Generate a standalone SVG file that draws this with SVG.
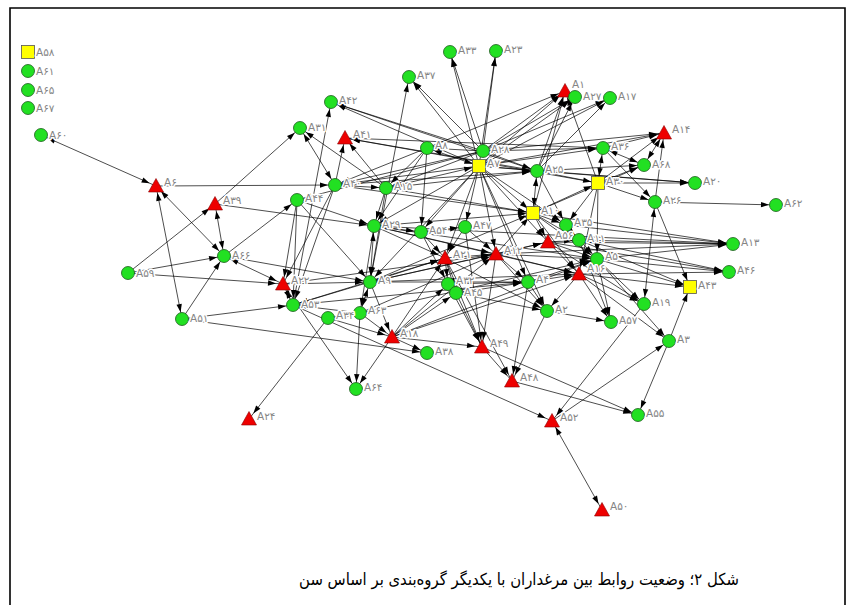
<svg xmlns="http://www.w3.org/2000/svg" xmlns:xlink="http://www.w3.org/1999/xlink" width="854" height="605" viewBox="0 0 854 605">
<style>
.frame{fill:none;stroke:#000;stroke-width:1.6}
#connectors line{stroke:#000;stroke-width:0.7;fill:none;marker-end:url(#ah)}
#connectors line.b{marker-start:url(#ah)}
.g{fill:#22e022;stroke:#1c5a1c;stroke-width:0.8}
.r{fill:#ee0000;stroke:#8a0000;stroke-width:0.6}
.y{fill:#ffff00;stroke:#555;stroke-width:0.8}
.l{font-family:"DejaVu Sans",sans-serif;font-size:10.5px;fill:#858585;stroke:#fff;stroke-width:3;paint-order:stroke;stroke-linejoin:round}
.cap{font-family:"DejaVu Sans Condensed","DejaVu Sans",sans-serif;font-size:16.5px;fill:#000}
</style>
<defs>
<marker id="ah" markerWidth="16" markerHeight="6" refX="15" refY="3" orient="auto-start-reverse" markerUnits="userSpaceOnUse" overflow="visible"><path d="M0,0.3 L8,3 L0,5.7 z" fill="#000"/></marker>
<circle id="cir" r="6.5"/>
<polygon id="tri" points="0,-7.5 7.5,6 -7.5,6"/>
<rect id="sq" x="-6.5" y="-6.5" width="13" height="13"/>
</defs>
<rect width="854" height="605" fill="#fff"/>
<path class="frame" d="M10,605 V8 H845 V605"/>
<g id="connectors">
<line class="b" x1="41" y1="135" x2="156" y2="186"/>
<line x1="156" y1="186" x2="335" y2="185"/>
<line class="b" x1="156" y1="186" x2="182" y2="319"/>
<line class="b" x1="156" y1="186" x2="224" y2="256"/>
<line x1="128" y1="273" x2="215" y2="204"/>
<line x1="128" y1="273" x2="224" y2="256"/>
<line x1="128" y1="273" x2="283" y2="284"/>
<line x1="182" y1="319" x2="224" y2="256"/>
<line x1="182" y1="319" x2="293" y2="305"/>
<line x1="182" y1="319" x2="427" y2="353"/>
<line class="b" x1="215" y1="204" x2="224" y2="256"/>
<line x1="215" y1="204" x2="374" y2="226"/>
<line x1="215" y1="204" x2="300" y2="128"/>
<line x1="224" y1="256" x2="297" y2="200"/>
<line class="b" x1="224" y1="256" x2="283" y2="284"/>
<line x1="224" y1="256" x2="370" y2="282"/>
<line class="b" x1="300" y1="128" x2="335" y2="185"/>
<line x1="386" y1="188" x2="300" y2="128"/>
<line x1="335" y1="185" x2="345" y2="138"/>
<line x1="386" y1="188" x2="345" y2="138"/>
<line x1="537" y1="171" x2="345" y2="138"/>
<line x1="598" y1="183" x2="345" y2="138"/>
<line x1="603" y1="148" x2="345" y2="138"/>
<line x1="479" y1="166" x2="331" y2="102"/>
<line x1="483" y1="151" x2="331" y2="102"/>
<line x1="537" y1="171" x2="331" y2="102"/>
<line x1="293" y1="305" x2="331" y2="102"/>
<line x1="370" y1="282" x2="409" y2="77"/>
<line x1="479" y1="166" x2="409" y2="77"/>
<line x1="483" y1="151" x2="409" y2="77"/>
<line x1="479" y1="166" x2="450" y2="52"/>
<line x1="483" y1="151" x2="450" y2="52"/>
<line x1="483" y1="151" x2="496" y2="51"/>
<line x1="479" y1="166" x2="496" y2="51"/>
<line x1="479" y1="166" x2="565" y2="91"/>
<line x1="483" y1="151" x2="565" y2="91"/>
<line x1="537" y1="171" x2="565" y2="91"/>
<line x1="427" y1="148" x2="565" y2="91"/>
<line x1="533" y1="213" x2="565" y2="91"/>
<line x1="598" y1="183" x2="565" y2="91"/>
<line x1="483" y1="151" x2="575" y2="97"/>
<line x1="537" y1="171" x2="575" y2="97"/>
<line x1="479" y1="166" x2="575" y2="97"/>
<line x1="479" y1="166" x2="610" y2="98"/>
<line x1="483" y1="151" x2="610" y2="98"/>
<line x1="537" y1="171" x2="610" y2="98"/>
<line x1="479" y1="166" x2="603" y2="148"/>
<line x1="483" y1="151" x2="603" y2="148"/>
<line class="b" x1="598" y1="183" x2="603" y2="148"/>
<line x1="603" y1="148" x2="664" y2="133"/>
<line x1="598" y1="183" x2="664" y2="133"/>
<line x1="479" y1="166" x2="664" y2="133"/>
<line x1="483" y1="151" x2="664" y2="133"/>
<line class="b" x1="644" y1="165" x2="664" y2="133"/>
<line x1="655" y1="202" x2="664" y2="133"/>
<line class="b" x1="603" y1="148" x2="644" y2="165"/>
<line x1="598" y1="183" x2="644" y2="165"/>
<line x1="533" y1="213" x2="644" y2="165"/>
<line x1="537" y1="171" x2="644" y2="165"/>
<line x1="479" y1="166" x2="695" y2="183"/>
<line x1="598" y1="183" x2="695" y2="183"/>
<line x1="537" y1="171" x2="695" y2="183"/>
<line x1="655" y1="202" x2="776" y2="205"/>
<line x1="548" y1="242" x2="733" y2="244"/>
<line x1="533" y1="213" x2="733" y2="244"/>
<line x1="566" y1="225" x2="733" y2="244"/>
<line x1="579" y1="240" x2="733" y2="244"/>
<line x1="597" y1="259" x2="733" y2="244"/>
<line x1="496" y1="254" x2="733" y2="244"/>
<line x1="374" y1="226" x2="733" y2="244"/>
<line x1="579" y1="274" x2="729" y2="272"/>
<line x1="597" y1="259" x2="729" y2="272"/>
<line x1="579" y1="240" x2="729" y2="272"/>
<line x1="548" y1="242" x2="729" y2="272"/>
<line x1="655" y1="202" x2="690" y2="287"/>
<line x1="669" y1="341" x2="690" y2="287"/>
<line x1="579" y1="274" x2="690" y2="287"/>
<line x1="597" y1="259" x2="690" y2="287"/>
<line x1="579" y1="240" x2="690" y2="287"/>
<line class="b" x1="655" y1="202" x2="644" y2="304"/>
<line x1="579" y1="274" x2="644" y2="304"/>
<line x1="597" y1="259" x2="644" y2="304"/>
<line x1="548" y1="242" x2="644" y2="304"/>
<line x1="579" y1="274" x2="611" y2="322"/>
<line x1="597" y1="259" x2="611" y2="322"/>
<line x1="579" y1="240" x2="611" y2="322"/>
<line x1="579" y1="274" x2="669" y2="341"/>
<line x1="597" y1="259" x2="669" y2="341"/>
<line x1="552" y1="421" x2="669" y2="341"/>
<line x1="669" y1="341" x2="638" y2="415"/>
<line x1="482" y1="347" x2="638" y2="415"/>
<line x1="512" y1="381" x2="638" y2="415"/>
<line x1="293" y1="305" x2="552" y2="421"/>
<line x1="644" y1="304" x2="552" y2="421"/>
<line class="b" x1="552" y1="421" x2="602" y2="510"/>
<line x1="482" y1="347" x2="512" y2="381"/>
<line x1="528" y1="282" x2="512" y2="381"/>
<line x1="547" y1="311" x2="512" y2="381"/>
<line x1="445" y1="258" x2="512" y2="381"/>
<line x1="392" y1="337" x2="482" y2="347"/>
<line x1="445" y1="258" x2="482" y2="347"/>
<line x1="496" y1="254" x2="482" y2="347"/>
<line x1="448" y1="284" x2="482" y2="347"/>
<line x1="456" y1="293" x2="482" y2="347"/>
<line x1="465" y1="227" x2="482" y2="347"/>
<line x1="392" y1="337" x2="427" y2="353"/>
<line x1="392" y1="337" x2="356" y2="389"/>
<line x1="283" y1="284" x2="356" y2="389"/>
<line x1="360" y1="313" x2="356" y2="389"/>
<line x1="328" y1="318" x2="249" y2="419"/>
<line class="b" x1="479" y1="166" x2="427" y2="148"/>
<line class="b" x1="479" y1="166" x2="386" y2="188"/>
<line x1="479" y1="166" x2="335" y2="185"/>
<line x1="479" y1="166" x2="374" y2="226"/>
<line x1="479" y1="166" x2="421" y2="232"/>
<line x1="479" y1="166" x2="465" y2="227"/>
<line x1="479" y1="166" x2="533" y2="213"/>
<line x1="479" y1="166" x2="537" y2="171"/>
<line x1="479" y1="166" x2="496" y2="254"/>
<line x1="479" y1="166" x2="445" y2="258"/>
<line x1="479" y1="166" x2="370" y2="282"/>
<line x1="479" y1="166" x2="548" y2="242"/>
<line x1="479" y1="166" x2="566" y2="225"/>
<line x1="479" y1="166" x2="528" y2="282"/>
<line x1="479" y1="166" x2="547" y2="311"/>
<line x1="483" y1="151" x2="427" y2="148"/>
<line x1="483" y1="151" x2="386" y2="188"/>
<line x1="483" y1="151" x2="335" y2="185"/>
<line x1="483" y1="151" x2="537" y2="171"/>
<line x1="483" y1="151" x2="297" y2="200"/>
<line x1="427" y1="148" x2="335" y2="185"/>
<line x1="427" y1="148" x2="386" y2="188"/>
<line x1="427" y1="148" x2="374" y2="226"/>
<line x1="427" y1="148" x2="421" y2="232"/>
<line x1="386" y1="188" x2="374" y2="226"/>
<line x1="386" y1="188" x2="370" y2="282"/>
<line x1="335" y1="185" x2="386" y2="188"/>
<line x1="335" y1="185" x2="283" y2="284"/>
<line x1="335" y1="185" x2="293" y2="305"/>
<line x1="297" y1="200" x2="283" y2="284"/>
<line x1="297" y1="200" x2="293" y2="305"/>
<line x1="297" y1="200" x2="374" y2="226"/>
<line x1="297" y1="200" x2="370" y2="282"/>
<line class="b" x1="374" y1="226" x2="370" y2="282"/>
<line x1="374" y1="226" x2="360" y2="313"/>
<line x1="374" y1="226" x2="421" y2="232"/>
<line x1="374" y1="226" x2="496" y2="254"/>
<line x1="374" y1="226" x2="445" y2="258"/>
<line x1="283" y1="284" x2="370" y2="282"/>
<line class="b" x1="370" y1="282" x2="360" y2="313"/>
<line x1="370" y1="282" x2="392" y2="337"/>
<line x1="370" y1="282" x2="293" y2="305"/>
<line x1="360" y1="313" x2="392" y2="337"/>
<line class="b" x1="360" y1="313" x2="328" y2="318"/>
<line x1="360" y1="313" x2="293" y2="305"/>
<line x1="328" y1="318" x2="392" y2="337"/>
<line class="b" x1="283" y1="284" x2="293" y2="305"/>
<line x1="392" y1="337" x2="445" y2="258"/>
<line x1="392" y1="337" x2="448" y2="284"/>
<line x1="392" y1="337" x2="496" y2="254"/>
<line x1="392" y1="337" x2="456" y2="293"/>
<line x1="421" y1="232" x2="445" y2="258"/>
<line x1="421" y1="232" x2="465" y2="227"/>
<line x1="421" y1="232" x2="448" y2="284"/>
<line x1="445" y1="258" x2="448" y2="284"/>
<line x1="445" y1="258" x2="456" y2="293"/>
<line x1="445" y1="258" x2="496" y2="254"/>
<line x1="445" y1="258" x2="547" y2="311"/>
<line x1="465" y1="227" x2="496" y2="254"/>
<line x1="465" y1="227" x2="445" y2="258"/>
<line x1="496" y1="254" x2="548" y2="242"/>
<line x1="496" y1="254" x2="528" y2="282"/>
<line x1="496" y1="254" x2="533" y2="213"/>
<line x1="496" y1="254" x2="597" y2="259"/>
<line x1="496" y1="254" x2="579" y2="274"/>
<line x1="496" y1="254" x2="547" y2="311"/>
<line x1="533" y1="213" x2="566" y2="225"/>
<line x1="533" y1="213" x2="548" y2="242"/>
<line class="b" x1="533" y1="213" x2="537" y2="171"/>
<line x1="533" y1="213" x2="579" y2="240"/>
<line x1="533" y1="213" x2="597" y2="259"/>
<line x1="533" y1="213" x2="579" y2="274"/>
<line x1="533" y1="213" x2="598" y2="183"/>
<line x1="537" y1="171" x2="566" y2="225"/>
<line x1="537" y1="171" x2="598" y2="183"/>
<line x1="548" y1="242" x2="579" y2="240"/>
<line x1="548" y1="242" x2="579" y2="274"/>
<line x1="548" y1="242" x2="597" y2="259"/>
<line x1="566" y1="225" x2="579" y2="240"/>
<line x1="566" y1="225" x2="597" y2="259"/>
<line x1="528" y1="282" x2="579" y2="274"/>
<line x1="528" y1="282" x2="547" y2="311"/>
<line x1="528" y1="282" x2="597" y2="259"/>
<line x1="579" y1="274" x2="547" y2="311"/>
<line x1="456" y1="293" x2="547" y2="311"/>
<line x1="456" y1="293" x2="528" y2="282"/>
<line x1="448" y1="284" x2="528" y2="282"/>
<line x1="598" y1="183" x2="655" y2="202"/>
<line x1="598" y1="183" x2="579" y2="274"/>
<line x1="598" y1="183" x2="597" y2="259"/>
<line x1="598" y1="183" x2="566" y2="225"/>
<line x1="603" y1="148" x2="655" y2="202"/>
<line x1="547" y1="311" x2="611" y2="322"/>
<line x1="370" y1="282" x2="445" y2="258"/>
<line x1="370" y1="282" x2="496" y2="254"/>
<line x1="370" y1="282" x2="548" y2="242"/>
<line x1="370" y1="282" x2="533" y2="213"/>
<line x1="370" y1="282" x2="528" y2="282"/>
<line x1="370" y1="282" x2="579" y2="274"/>
<line x1="386" y1="188" x2="533" y2="213"/>
<line x1="386" y1="188" x2="537" y2="171"/>
<line x1="335" y1="185" x2="537" y2="171"/>
<line x1="335" y1="185" x2="533" y2="213"/>
<line x1="374" y1="226" x2="533" y2="213"/>
<line x1="374" y1="226" x2="579" y2="274"/>
<line x1="374" y1="226" x2="597" y2="259"/>
<line x1="293" y1="305" x2="445" y2="258"/>
<line x1="293" y1="305" x2="528" y2="282"/>
<line x1="360" y1="313" x2="496" y2="254"/>
<line x1="360" y1="313" x2="597" y2="259"/>
<line x1="392" y1="337" x2="579" y2="274"/>
<line x1="392" y1="337" x2="597" y2="259"/>
<line x1="283" y1="284" x2="496" y2="254"/>
</g>
<g id="A58"><use href="#sq" x="28" y="52" class="y"/><text class="l" x="36" y="56">A۵۸</text></g>
<g id="A61"><use href="#cir" x="28" y="71" class="g"/><text class="l" x="36" y="75">A۶۱</text></g>
<g id="A65"><use href="#cir" x="28" y="90" class="g"/><text class="l" x="36" y="94">A۶۵</text></g>
<g id="A67"><use href="#cir" x="28" y="108" class="g"/><text class="l" x="36" y="112">A۶۷</text></g>
<g id="A60"><use href="#cir" x="41" y="135" class="g"/><text class="l" x="49" y="139">A۶۰</text></g>
<g id="A6"><use href="#tri" x="156" y="186" class="r"/><text class="l" x="164" y="186">A۶</text></g>
<g id="A39"><use href="#tri" x="215" y="204" class="r"/><text class="l" x="223" y="204">A۳۹</text></g>
<g id="A66"><use href="#cir" x="224" y="256" class="g"/><text class="l" x="232" y="259">A۶۶</text></g>
<g id="A59"><use href="#cir" x="128" y="273" class="g"/><text class="l" x="136" y="277">A۵۹</text></g>
<g id="A51"><use href="#cir" x="182" y="319" class="g"/><text class="l" x="190" y="322">A۵۱</text></g>
<g id="A22"><use href="#tri" x="283" y="284" class="r"/><text class="l" x="291" y="284">A۲۲</text></g>
<g id="A53"><use href="#cir" x="293" y="305" class="g"/><text class="l" x="301" y="308">A۵۳</text></g>
<g id="A44"><use href="#cir" x="297" y="200" class="g"/><text class="l" x="305" y="202">A۴۴</text></g>
<g id="A40"><use href="#cir" x="335" y="185" class="g"/><text class="l" x="343" y="187">A۴۰</text></g>
<g id="A31"><use href="#cir" x="300" y="128" class="g"/><text class="l" x="308" y="131">A۳۱</text></g>
<g id="A42"><use href="#cir" x="331" y="102" class="g"/><text class="l" x="339" y="104">A۴۲</text></g>
<g id="A41"><use href="#tri" x="345" y="138" class="r"/><text class="l" x="353" y="138">A۴۱</text></g>
<g id="A37"><use href="#cir" x="409" y="77" class="g"/><text class="l" x="417" y="79">A۳۷</text></g>
<g id="A33"><use href="#cir" x="450" y="52" class="g"/><text class="l" x="458" y="54">A۳۳</text></g>
<g id="A23"><use href="#cir" x="496" y="51" class="g"/><text class="l" x="504" y="53">A۲۳</text></g>
<g id="A1"><use href="#tri" x="565" y="91" class="r"/><text class="l" x="572" y="88">A۱</text></g>
<g id="A27"><use href="#cir" x="575" y="97" class="g"/><text class="l" x="583" y="100">A۲۷</text></g>
<g id="A17"><use href="#cir" x="610" y="98" class="g"/><text class="l" x="618" y="100">A۱۷</text></g>
<g id="A8"><use href="#cir" x="427" y="148" class="g"/><text class="l" x="435" y="149">A۸</text></g>
<g id="A28"><use href="#cir" x="483" y="151" class="g"/><text class="l" x="491" y="153">A۲۸</text></g>
<g id="A7"><use href="#sq" x="479" y="166" class="y"/><text class="l" x="487" y="167">A۷</text></g>
<g id="A25"><use href="#cir" x="537" y="171" class="g"/><text class="l" x="545" y="173">A۲۵</text></g>
<g id="A36"><use href="#cir" x="603" y="148" class="g"/><text class="l" x="611" y="150">A۳۶</text></g>
<g id="A30"><use href="#sq" x="598" y="183" class="y"/><text class="l" x="606" y="185">A۳۰</text></g>
<g id="A14"><use href="#tri" x="664" y="133" class="r"/><text class="l" x="672" y="133">A۱۴</text></g>
<g id="A68"><use href="#cir" x="644" y="165" class="g"/><text class="l" x="652" y="168">A۶۸</text></g>
<g id="A20"><use href="#cir" x="695" y="183" class="g"/><text class="l" x="703" y="185">A۲۰</text></g>
<g id="A26"><use href="#cir" x="655" y="202" class="g"/><text class="l" x="663" y="204">A۲۶</text></g>
<g id="A62"><use href="#cir" x="776" y="205" class="g"/><text class="l" x="784" y="207">A۶۲</text></g>
<g id="A15"><use href="#cir" x="386" y="188" class="g"/><text class="l" x="394" y="190">A۱۵</text></g>
<g id="A29"><use href="#cir" x="374" y="226" class="g"/><text class="l" x="382" y="228">A۲۹</text></g>
<g id="A9"><use href="#cir" x="370" y="282" class="g"/><text class="l" x="378" y="284">A۹</text></g>
<g id="A63"><use href="#cir" x="360" y="313" class="g"/><text class="l" x="368" y="314">A۶۳</text></g>
<g id="A34"><use href="#cir" x="328" y="318" class="g"/><text class="l" x="336" y="319">A۳۴</text></g>
<g id="A18"><use href="#tri" x="392" y="337" class="r"/><text class="l" x="400" y="337">A۱۸</text></g>
<g id="A64"><use href="#cir" x="356" y="389" class="g"/><text class="l" x="364" y="391">A۶۴</text></g>
<g id="A24"><use href="#tri" x="249" y="419" class="r"/><text class="l" x="257" y="420">A۲۴</text></g>
<g id="A38"><use href="#cir" x="427" y="353" class="g"/><text class="l" x="435" y="355">A۳۸</text></g>
<g id="A49"><use href="#tri" x="482" y="347" class="r"/><text class="l" x="490" y="347">A۴۹</text></g>
<g id="A48"><use href="#tri" x="512" y="381" class="r"/><text class="l" x="520" y="381">A۴۸</text></g>
<g id="A52"><use href="#tri" x="552" y="421" class="r"/><text class="l" x="560" y="421">A۵۲</text></g>
<g id="A50"><use href="#tri" x="602" y="510" class="r"/><text class="l" x="610" y="510">A۵۰</text></g>
<g id="A55"><use href="#cir" x="638" y="415" class="g"/><text class="l" x="646" y="417">A۵۵</text></g>
<g id="A3"><use href="#cir" x="669" y="341" class="g"/><text class="l" x="677" y="343">A۳</text></g>
<g id="A54"><use href="#cir" x="421" y="232" class="g"/><text class="l" x="429" y="234">A۵۴</text></g>
<g id="A47"><use href="#cir" x="465" y="227" class="g"/><text class="l" x="473" y="229">A۴۷</text></g>
<g id="A10"><use href="#sq" x="533" y="213" class="y"/><text class="l" x="541" y="214">A۱۰</text></g>
<g id="A35"><use href="#cir" x="566" y="225" class="g"/><text class="l" x="574" y="226">A۳۵</text></g>
<g id="A56"><use href="#tri" x="548" y="242" class="r"/><text class="l" x="555" y="239">A۵۶</text></g>
<g id="A11"><use href="#cir" x="579" y="240" class="g"/><text class="l" x="587" y="242">A۱۱</text></g>
<g id="A5"><use href="#cir" x="597" y="259" class="g"/><text class="l" x="605" y="260">A۵</text></g>
<g id="A16"><use href="#tri" x="579" y="274" class="r"/><text class="l" x="587" y="272">A۱۶</text></g>
<g id="A4"><use href="#cir" x="528" y="282" class="g"/><text class="l" x="536" y="283">A۴</text></g>
<g id="A12"><use href="#tri" x="496" y="254" class="r"/><text class="l" x="504" y="254">A۱۲</text></g>
<g id="A21"><use href="#tri" x="445" y="258" class="r"/><text class="l" x="453" y="258">A۲۱</text></g>
<g id="A32"><use href="#cir" x="448" y="284" class="g"/><text class="l" x="456" y="284">A۳۲</text></g>
<g id="A45"><use href="#cir" x="456" y="293" class="g"/><text class="l" x="464" y="296">A۴۵</text></g>
<g id="A2"><use href="#cir" x="547" y="311" class="g"/><text class="l" x="555" y="313">A۲</text></g>
<g id="A57"><use href="#cir" x="611" y="322" class="g"/><text class="l" x="619" y="324">A۵۷</text></g>
<g id="A19"><use href="#cir" x="644" y="304" class="g"/><text class="l" x="652" y="306">A۱۹</text></g>
<g id="A43"><use href="#sq" x="690" y="287" class="y"/><text class="l" x="698" y="289">A۴۳</text></g>
<g id="A46"><use href="#cir" x="729" y="272" class="g"/><text class="l" x="737" y="274">A۴۶</text></g>
<g id="A13"><use href="#cir" x="733" y="244" class="g"/><text class="l" x="741" y="246">A۱۳</text></g>
<text class="cap" x="519" y="585" text-anchor="middle" direction="rtl">شکل ۲؛ وضعیت روابط بین مرغداران با یکدیگر گروه‌بندی بر اساس سن</text>
</svg>
